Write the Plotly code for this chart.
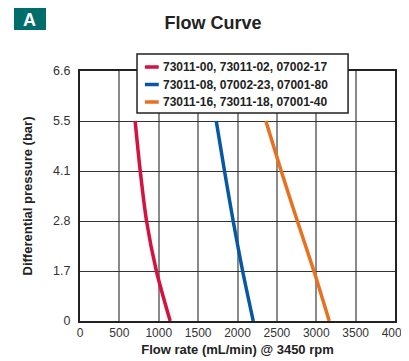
import plotly.graph_objects as go

# 数据
pressure_labels = ['0', '1.7', '2.8', '4.1', '5.5', '6.6']
curve_levels = ['0', '1.7', '2.8', '4.1', '5.5']
series_names = ['73011-00, 73011-02, 07002-17',
                '73011-08, 07002-23, 07001-80',
                '73011-16, 73011-18, 07001-40']
flow_red = [1145, 970, 845, 765, 700]
flow_blue = [2200, 2065, 1945, 1835, 1730]
flow_orange = [3165, 2970, 2760, 2555, 2360]
series_colors = ['#d5123f', '#0757a5', '#e8701e']
x_ticks = [0, 500, 1000, 1500, 2000, 2500, 3000, 3500, 4000]

font_main = 'Liberation Sans, Arial, sans-serif'

# 页面 body 默认有 8px 外边距，尺寸和边距相应扣除
W, H = 401, 353

fig = go.Figure()
for name, flows, color in zip(series_names, [flow_red, flow_blue, flow_orange], series_colors):
    fig.add_trace(go.Scatter(x=flows, y=curve_levels, mode='lines', name=name,
                             line=dict(color=color, width=3.5, shape='spline', smoothing=0.8),
                             showlegend=False))

fig.update_layout(
    width=W, height=H,
    margin=dict(l=72, r=14, t=63, b=40, autoexpand=False),
    paper_bgcolor='white', plot_bgcolor='white',
    font=dict(family=font_main, color='#333333', size=13),
    title=dict(text='<b>Flow Curve</b>', x=(213 - 8) / W, xanchor='center',
               y=1 - (23 - 8) / H, yanchor='middle', yref='container',
               font=dict(size=18, color='#222222')),
    xaxis=dict(range=[0, 4000], tickvals=x_ticks, showgrid=True, gridcolor='#8a8a8a', gridwidth=1.5,
               zeroline=False, showline=True, linecolor='#222222', linewidth=2, mirror=True,
               ticks='', automargin=False, ticklabeloverflow='allow',
               tickfont=dict(size=12, color='#333333'),
               title=dict(text='<b>Flow rate (mL/min) @ 3450 rpm</b>', standoff=5,
                          font=dict(size=13, color='#222222'))),
    yaxis=dict(type='category', categoryorder='array', categoryarray=pressure_labels,
               range=[0, 5], showgrid=True, gridcolor='#333333', gridwidth=1.2,
               zeroline=False, showline=True, linecolor='#222222', linewidth=2, mirror=True,
               ticks='', ticklabelstandoff=5, automargin=False,
               tickfont=dict(size=12.5, color='#333333'),
               title=dict(text='<b>Differential pressure (bar)</b>', standoff=18,
                          font=dict(size=13, color='#222222'))),
)

# 图例框（手工绘制）
shapes = [dict(type='rect', xref='paper', yref='paper', x0=0.181, x1=0.851, y0=0.832, y1=1.068,
               fillcolor='white', line=dict(color='#222222', width=1.5), layer='above')]
annotations = []
row_y = [1.016, 0.946, 0.876]
for name, color, yy in zip(series_names, series_colors, row_y):
    shapes.append(dict(type='line', xref='paper', yref='paper', x0=0.206, x1=0.25, y0=yy, y1=yy,
                       line=dict(color=color, width=3.5), layer='above'))
    annotations.append(dict(xref='paper', yref='paper', x=0.257, y=yy, xanchor='left', yanchor='middle',
                            text='<b>' + name + '</b>', showarrow=False,
                            font=dict(size=12, color='#222222')))

# 左上角 "A" 标识
shapes.append(dict(type='rect', xref='paper', yref='paper', x0=-0.2095, x1=-0.108, y0=1.164, y1=1.252,
                   fillcolor='#006d6d', line=dict(width=0), layer='above'))
annotations.append(dict(xref='paper', yref='paper', x=-0.159, y=1.206, xanchor='center', yanchor='middle',
                        text='<b>A</b>', showarrow=False,
                        font=dict(family=font_main, size=18, color='white')))

fig.update_layout(shapes=shapes, annotations=annotations)

fig.write_html('out.html')
